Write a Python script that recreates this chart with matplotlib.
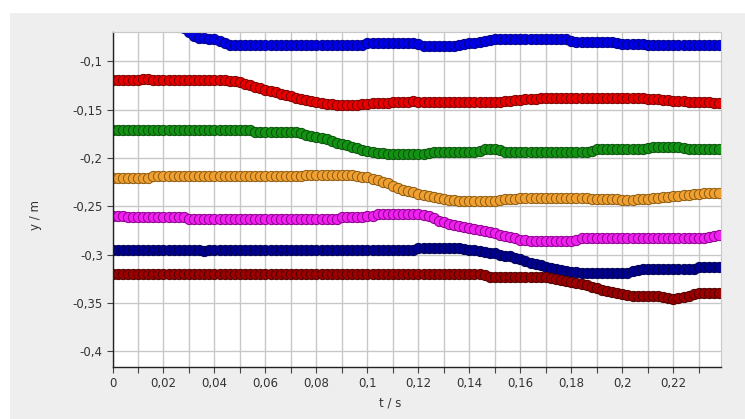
import numpy as np
import matplotlib
matplotlib.use('Agg')
import matplotlib.pyplot as plt
from matplotlib.patches import Rectangle
from matplotlib.ticker import FixedLocator, FixedFormatter

# sample times (s), one sample every 2 ms
t = np.arange(120) * 0.002

# y positions (m), one list per tracked point
blue = [-0.060, -0.060, -0.060, -0.061, -0.061, -0.061, -0.061, -0.062, -0.062, -0.062,
        -0.062, -0.063, -0.063, -0.064, -0.065, -0.070, -0.074, -0.0755, -0.076, -0.077,
        -0.077, -0.079, -0.081, -0.083, -0.083, -0.083, -0.083, -0.083, -0.083, -0.083,
        -0.083, -0.083, -0.083, -0.083, -0.083, -0.083, -0.083, -0.083, -0.083, -0.083,
        -0.083, -0.083, -0.083, -0.083, -0.083, -0.083, -0.083, -0.083, -0.083, -0.083,
        -0.081, -0.081, -0.081, -0.081, -0.081, -0.081, -0.081, -0.081, -0.081, -0.081,
        -0.082, -0.0835, -0.0835, -0.0835, -0.0835, -0.0835, -0.0835, -0.0835, -0.083, -0.0815,
        -0.081, -0.0805, -0.080, -0.079, -0.078, -0.077, -0.0765, -0.0765, -0.0765, -0.0765,
        -0.0765, -0.0765, -0.0765, -0.0765, -0.0765, -0.0765, -0.0765, -0.0765, -0.0765, -0.0765,
        -0.079, -0.0795, -0.0795, -0.0795, -0.0795, -0.0795, -0.0795, -0.0795, -0.080, -0.081,
        -0.0815, -0.0815, -0.0815, -0.0815, -0.082, -0.083, -0.083, -0.083, -0.083, -0.083,
        -0.083, -0.083, -0.083, -0.083, -0.083, -0.083, -0.083, -0.083, -0.083, -0.083]

red = [-0.119, -0.119, -0.119, -0.119, -0.119, -0.119, -0.118, -0.118, -0.119, -0.119,
       -0.119, -0.119, -0.119, -0.119, -0.119, -0.119, -0.119, -0.119, -0.119, -0.119,
       -0.119, -0.119, -0.1195, -0.120, -0.1205, -0.1215, -0.123, -0.1248, -0.126, -0.128,
       -0.1295, -0.131, -0.132, -0.1335, -0.135, -0.1362, -0.1375, -0.139, -0.140, -0.141,
       -0.1425, -0.1435, -0.144, -0.1445, -0.145, -0.145, -0.1455, -0.1455, -0.145, -0.144,
       -0.144, -0.1435, -0.143, -0.143, -0.143, -0.1425, -0.142, -0.1415, -0.1415, -0.1405,
       -0.1415, -0.1415, -0.1415, -0.1415, -0.1415, -0.1415, -0.1415, -0.1415, -0.1415, -0.1415,
       -0.1415, -0.1415, -0.1415, -0.1415, -0.1415, -0.1415, -0.1415, -0.141, -0.1405, -0.140,
       -0.1395, -0.139, -0.1388, -0.1385, -0.138, -0.1378, -0.1378, -0.1378, -0.1378, -0.1378,
       -0.1378, -0.1378, -0.1378, -0.1378, -0.1378, -0.1378, -0.1378, -0.1378, -0.1378, -0.1378,
       -0.1378, -0.1378, -0.1378, -0.1378, -0.138, -0.1385, -0.139, -0.1393, -0.1397, -0.140,
       -0.1405, -0.141, -0.141, -0.1415, -0.142, -0.142, -0.1423, -0.1425, -0.1428, -0.143]

green = [-0.1708, -0.1708, -0.1708, -0.1708, -0.1708, -0.1708, -0.1708, -0.1708, -0.1708, -0.1708,
         -0.1708, -0.1708, -0.1708, -0.1708, -0.1708, -0.1708, -0.1708, -0.1708, -0.1708, -0.1708,
         -0.1708, -0.1708, -0.1708, -0.1708, -0.1708, -0.1708, -0.1708, -0.171, -0.173, -0.173,
         -0.173, -0.173, -0.173, -0.173, -0.173, -0.173, -0.1735, -0.1745, -0.1758, -0.177,
         -0.178, -0.179, -0.1808, -0.1825, -0.184, -0.1855, -0.187, -0.1885, -0.190, -0.1915,
         -0.193, -0.194, -0.1945, -0.195, -0.1957, -0.1957, -0.1957, -0.1957, -0.1957, -0.1957,
         -0.1957, -0.1957, -0.195, -0.1942, -0.1942, -0.1942, -0.1942, -0.1942, -0.1942, -0.1942,
         -0.1942, -0.1942, -0.193, -0.191, -0.191, -0.191, -0.192, -0.1937, -0.1937, -0.1937,
         -0.1937, -0.1937, -0.1937, -0.1937, -0.1937, -0.1937, -0.1937, -0.1937, -0.1937, -0.1937,
         -0.1937, -0.1937, -0.1937, -0.1937, -0.1925, -0.1905, -0.1905, -0.1905, -0.1905, -0.1905,
         -0.1905, -0.1905, -0.1905, -0.1905, -0.1905, -0.190, -0.1888, -0.1888, -0.1888, -0.1888,
         -0.1888, -0.1888, -0.1895, -0.1903, -0.1903, -0.1903, -0.1903, -0.1903, -0.1903, -0.1903]

orange = [-0.2205, -0.2205, -0.2205, -0.2205, -0.2205, -0.2205, -0.2205, -0.2205, -0.219, -0.219,
          -0.219, -0.219, -0.219, -0.219, -0.219, -0.219, -0.219, -0.219, -0.219, -0.219,
          -0.219, -0.219, -0.219, -0.219, -0.219, -0.219, -0.219, -0.219, -0.219, -0.219,
          -0.219, -0.219, -0.219, -0.219, -0.219, -0.219, -0.219, -0.219, -0.2175, -0.2175,
          -0.2175, -0.2175, -0.2175, -0.2175, -0.2175, -0.2175, -0.2175, -0.218, -0.219, -0.2195,
          -0.220, -0.2215, -0.223, -0.2245, -0.226, -0.2285, -0.231, -0.233, -0.2345, -0.2355,
          -0.237, -0.2385, -0.2395, -0.2405, -0.2415, -0.2425, -0.2433, -0.244, -0.2445, -0.2445,
          -0.2445, -0.2445, -0.2445, -0.2445, -0.2445, -0.2445, -0.2438, -0.243, -0.2425, -0.242,
          -0.2415, -0.241, -0.241, -0.241, -0.241, -0.241, -0.241, -0.241, -0.241, -0.241,
          -0.241, -0.241, -0.241, -0.2418, -0.2425, -0.243, -0.243, -0.243, -0.243, -0.243,
          -0.2438, -0.2438, -0.2438, -0.243, -0.2425, -0.242, -0.2415, -0.241, -0.2405, -0.240,
          -0.2395, -0.239, -0.2385, -0.238, -0.2375, -0.237, -0.2365, -0.2365, -0.2365, -0.2365]

magenta = [-0.2597, -0.2597, -0.2597, -0.2613, -0.2613, -0.2613, -0.2613, -0.2613, -0.2613, -0.2613,
           -0.2613, -0.2613, -0.2613, -0.2613, -0.2613, -0.2628, -0.2628, -0.2628, -0.2628, -0.2628,
           -0.2628, -0.2628, -0.2628, -0.2628, -0.2628, -0.2628, -0.2628, -0.2628, -0.2628, -0.2628,
           -0.2628, -0.2628, -0.2628, -0.2628, -0.2628, -0.2628, -0.2628, -0.2628, -0.2628, -0.2628,
           -0.2628, -0.2628, -0.2628, -0.2628, -0.2628, -0.2608, -0.2608, -0.2608, -0.2608, -0.2608,
           -0.2605, -0.2605, -0.2585, -0.2585, -0.2585, -0.2585, -0.2585, -0.2585, -0.2585, -0.2585,
           -0.2585, -0.259, -0.2605, -0.2625, -0.2648, -0.2665, -0.268, -0.2695, -0.2708, -0.272,
           -0.273, -0.274, -0.275, -0.2758, -0.277, -0.2778, -0.2795, -0.281, -0.282, -0.2832,
           -0.2845, -0.2852, -0.2858, -0.2862, -0.2862, -0.2862, -0.2862, -0.2862, -0.2862, -0.2862,
           -0.2862, -0.285, -0.2828, -0.2828, -0.2828, -0.2828, -0.2828, -0.2828, -0.2828, -0.2828,
           -0.2828, -0.2828, -0.2828, -0.2828, -0.2828, -0.2828, -0.2828, -0.2828, -0.2828, -0.2828,
           -0.2828, -0.2828, -0.2828, -0.2828, -0.2828, -0.2828, -0.2825, -0.2815, -0.2805, -0.280]

navy = [-0.2948, -0.2948, -0.2948, -0.2948, -0.2948, -0.2948, -0.2948, -0.2948, -0.2948, -0.2948,
        -0.2948, -0.2948, -0.2948, -0.2948, -0.2948, -0.2948, -0.2948, -0.2948, -0.2968, -0.2948,
        -0.2948, -0.2948, -0.2948, -0.2948, -0.2948, -0.2948, -0.2948, -0.2948, -0.2948, -0.2948,
        -0.2948, -0.2948, -0.2948, -0.2948, -0.2948, -0.2948, -0.2948, -0.2948, -0.2948, -0.2948,
        -0.2948, -0.2948, -0.2948, -0.2948, -0.2948, -0.2948, -0.2948, -0.2948, -0.2948, -0.2948,
        -0.2948, -0.2948, -0.2948, -0.2948, -0.2948, -0.2948, -0.2948, -0.2948, -0.2948, -0.2948,
        -0.2935, -0.2935, -0.2935, -0.2935, -0.2935, -0.2935, -0.2935, -0.2935, -0.2935, -0.294,
        -0.2948, -0.2955, -0.2962, -0.297, -0.298, -0.2988, -0.300, -0.3012, -0.302, -0.3035,
        -0.305, -0.3068, -0.3085, -0.310, -0.3112, -0.3125, -0.3135, -0.3148, -0.316, -0.317,
        -0.3178, -0.3185, -0.3195, -0.3195, -0.3195, -0.3195, -0.3195, -0.3195, -0.3195, -0.3195,
        -0.3195, -0.319, -0.3175, -0.316, -0.3152, -0.3152, -0.3152, -0.3152, -0.3152, -0.3152,
        -0.3152, -0.3145, -0.3145, -0.3145, -0.3145, -0.3132, -0.3132, -0.3132, -0.3132, -0.3132]

darkred = [-0.3205, -0.3205, -0.3205, -0.3205, -0.3205, -0.3205, -0.3205, -0.3205, -0.3205, -0.3205,
           -0.3205, -0.3205, -0.3205, -0.3205, -0.3205, -0.3205, -0.3205, -0.3205, -0.3205, -0.3205,
           -0.3205, -0.3205, -0.3205, -0.3205, -0.3205, -0.3205, -0.3205, -0.3205, -0.3205, -0.3205,
           -0.3205, -0.3205, -0.3205, -0.3205, -0.3205, -0.3205, -0.3205, -0.3205, -0.3205, -0.3205,
           -0.3205, -0.3205, -0.3205, -0.3205, -0.3205, -0.3205, -0.3205, -0.3205, -0.3205, -0.3205,
           -0.3205, -0.3205, -0.3205, -0.3205, -0.3205, -0.3205, -0.3205, -0.3205, -0.3205, -0.3205,
           -0.3205, -0.3205, -0.3205, -0.3205, -0.3205, -0.3205, -0.3205, -0.3205, -0.3205, -0.3205,
           -0.3205, -0.3205, -0.3205, -0.3215, -0.3228, -0.3228, -0.3228, -0.3228, -0.3228, -0.3228,
           -0.3228, -0.3228, -0.3228, -0.3228, -0.3228, -0.3235, -0.3245, -0.3255, -0.3265, -0.3272,
           -0.328, -0.329, -0.3305, -0.332, -0.3335, -0.335, -0.3365, -0.338, -0.339, -0.340,
           -0.341, -0.342, -0.3425, -0.3432, -0.3432, -0.3432, -0.3432, -0.3432, -0.344, -0.345,
           -0.3458, -0.3455, -0.344, -0.3425, -0.341, -0.340, -0.3395, -0.3395, -0.3395, -0.3395]

series = [blue, red, green, orange, magenta, navy, darkred]
fills = ['#0000e6', '#e60000', '#139313', '#f0a030', '#f020f0', '#000090', '#9a0000']
edges = ['#00008c', '#7a0000', '#0a4f0a', '#8a5a12', '#880088', '#000050', '#4f0000']

x_ticks = [0.00, 0.01, 0.02, 0.03, 0.04, 0.05, 0.06, 0.07, 0.08, 0.09, 0.10, 0.11,
           0.12, 0.13, 0.14, 0.15, 0.16, 0.17, 0.18, 0.19, 0.20, 0.21, 0.22, 0.23]
x_labels = ['0', '', '0,02', '', '0,04', '', '0,06', '', '0,08', '', '0,1', '',
            '0,12', '', '0,14', '', '0,16', '', '0,18', '', '0,2', '', '0,22', '']
y_ticks = [-0.40, -0.35, -0.30, -0.25, -0.20, -0.15, -0.10]
y_labels = ['-0,4', '-0,35', '-0,3', '-0,25', '-0,2', '-0,15', '-0,1']

fig = plt.figure(figsize=(7.45, 4.19), dpi=100)
fig.patch.set_facecolor('white')
fig.patches.append(Rectangle((10 / 745, 0), 735 / 745, 406 / 419, transform=fig.transFigure,
                             facecolor='#eeeeee', edgecolor='none', zorder=-1))

ax = fig.add_axes([112.5 / 745, (419 - 367) / 419, 608 / 745, 335 / 419])
ax.set_facecolor('white')

for ys, fc, ec in zip(series, fills, edges):
    ax.plot(t, ys, linestyle='none', marker='o', markersize=7.4,
            markerfacecolor=fc, markeredgecolor=ec, markeredgewidth=0.7)

ax.set_xlim(0, 0.2385)
ax.set_ylim(-0.4165, -0.0695)

ax.xaxis.set_major_locator(FixedLocator(x_ticks))
ax.xaxis.set_major_formatter(FixedFormatter(x_labels))
ax.yaxis.set_major_locator(FixedLocator(y_ticks))
ax.yaxis.set_major_formatter(FixedFormatter(y_labels))

ax.grid(True, color='#c8c8c8', linewidth=1.0)
ax.set_axisbelow(True)
for side in ['top', 'right']:
    ax.spines[side].set_color('#c8c8c8')
for side in ['left', 'bottom']:
    ax.spines[side].set_color('#222222')
    ax.spines[side].set_linewidth(1.0)
ax.tick_params(axis='both', direction='out', length=4, width=0.8, color='#444444',
               labelsize=8.5, labelcolor='#333333', pad=3)

fig.text(390 / 745, 1 - 403 / 419, 't / s', ha='center', va='center', fontsize=8.5, color='#333333')
fig.text(35 / 745, 1 - 215 / 419, 'y / m', ha='center', va='center', rotation=90,
         fontsize=8.5, color='#333333')

fig.savefig('out.png', dpi=100)
